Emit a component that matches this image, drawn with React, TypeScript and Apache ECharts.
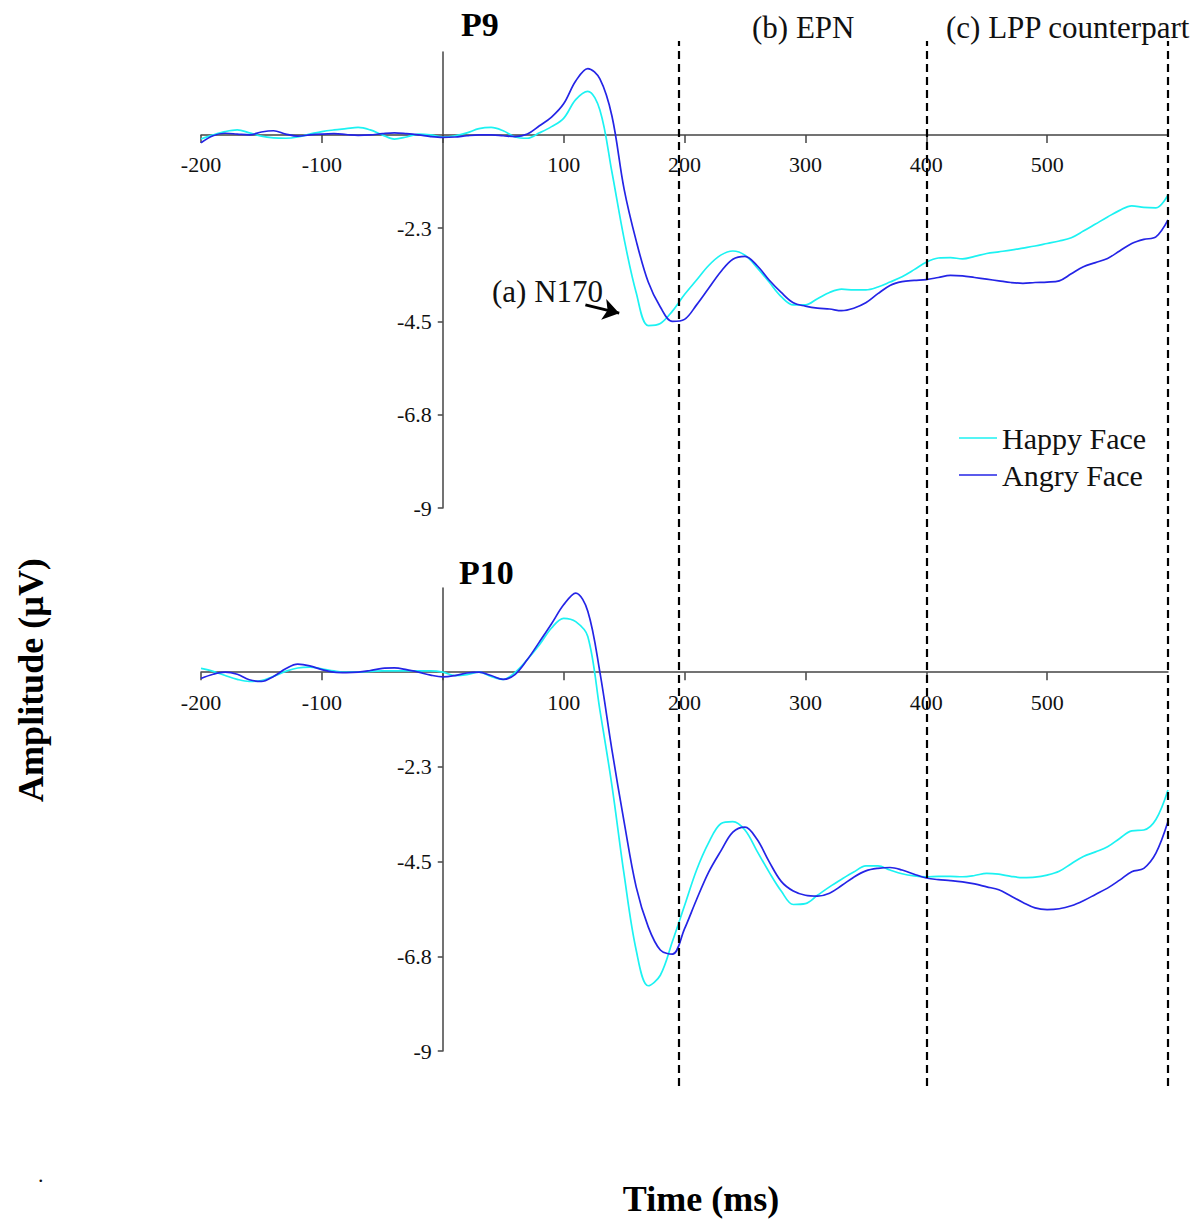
import React, { useEffect, useRef } from "react";
import * as echarts from "echarts";

const timeMs = [
  -200, -190, -180, -170, -160, -150, -140, -130, -120, -110,
  -100, -90, -80, -70, -60, -50, -40, -30, -20, -10,
  0, 10, 20, 30, 40, 50, 60, 70, 80, 90,
  100, 110, 120, 130, 140, 150, 160, 170, 180, 190,
  200, 210, 220, 230, 240, 250, 260, 270, 280, 290,
  300, 310, 320, 330, 340, 350, 360, 370, 380, 390,
  400, 410, 420, 430, 440, 450, 460, 470, 480, 490,
  500, 510, 520, 530, 540, 550, 560, 570, 580, 590, 600,
];

const p9Happy = [
  -0.1, 0.0, 0.08, 0.12, 0.05, -0.03, -0.07, -0.08, -0.05, 0.02,
  0.08, 0.12, 0.15, 0.18, 0.12, 0.0, -0.1, -0.05, 0.02, 0.0,
  -0.05, -0.02, 0.05, 0.15, 0.18, 0.1, -0.05, -0.08, 0.05, 0.2,
  0.4, 0.85, 1.05, 0.6, -0.9, -2.5, -3.8, -4.6, -4.55, -4.25,
  -3.85, -3.5, -3.15, -2.9, -2.8, -2.9, -3.2, -3.55, -3.9, -4.1,
  -4.1, -3.95, -3.8, -3.72, -3.74, -3.74, -3.67, -3.55, -3.42, -3.25,
  -3.07, -2.97, -2.96, -2.99, -2.93, -2.86, -2.82, -2.78, -2.73, -2.68,
  -2.62, -2.56, -2.48, -2.32, -2.15, -1.98, -1.82, -1.71, -1.75, -1.76, -1.45,
];

const p9Angry = [
  -0.19, -0.02, 0.04, 0.02, 0.0, 0.07, 0.1, 0.02, -0.03, 0.0,
  0.02, 0.03, 0.01, -0.01, 0.0, 0.03, 0.05, 0.03, 0.0, -0.04,
  -0.06, -0.05, -0.02, 0.0, 0.0, -0.02, -0.04, 0.02, 0.22, 0.43,
  0.75, 1.3, 1.6, 1.35, 0.45, -1.3, -2.55, -3.55, -4.15, -4.5,
  -4.45, -4.1, -3.7, -3.3, -3.0, -2.93, -3.15, -3.5, -3.8, -4.05,
  -4.13, -4.18, -4.2, -4.24, -4.18, -4.05, -3.83, -3.63, -3.54, -3.51,
  -3.49, -3.44, -3.39, -3.4, -3.44, -3.48, -3.52, -3.56, -3.58, -3.56,
  -3.55, -3.52, -3.35, -3.18, -3.08, -2.98, -2.8, -2.62, -2.52, -2.46, -2.05,
];

const p10Happy = [
  0.09, 0.02, -0.08, -0.17, -0.22, -0.2, -0.1, 0.02, 0.1, 0.12,
  0.08, 0.03, 0.0, 0.0, 0.02, 0.03, 0.03, 0.03, 0.03, 0.03,
  0.0, -0.08, -0.06, 0.0, -0.1, -0.17, 0.0, 0.3, 0.65, 1.05,
  1.28, 1.2, 0.85, -0.9, -2.7, -4.8, -6.6, -7.45, -7.2, -6.4,
  -5.55, -4.7, -4.05, -3.6, -3.55, -3.75, -4.25, -4.75, -5.2, -5.52,
  -5.5, -5.3, -5.1, -4.92, -4.75, -4.6, -4.6, -4.7, -4.79, -4.84,
  -4.86, -4.85, -4.85, -4.86, -4.83, -4.78, -4.8, -4.85, -4.88, -4.87,
  -4.82, -4.73, -4.55, -4.38, -4.27, -4.15, -3.95, -3.77, -3.75, -3.5, -2.8,
];

const p10Angry = [
  -0.15, -0.05, 0.0, -0.05, -0.18, -0.22, -0.1, 0.08, 0.19, 0.15,
  0.06, 0.0, -0.01, 0.0, 0.04, 0.09, 0.1, 0.06, 0.0, -0.07,
  -0.11, -0.08, -0.02, 0.0, -0.08, -0.17, -0.05, 0.3, 0.72, 1.15,
  1.6, 1.88, 1.45, 0.0, -1.85, -3.55, -5.1, -6.05, -6.6, -6.7,
  -6.1, -5.4, -4.75, -4.25, -3.8, -3.68, -3.97, -4.5, -4.97, -5.2,
  -5.3, -5.32, -5.25, -5.07, -4.87, -4.72, -4.66, -4.64, -4.7, -4.8,
  -4.89, -4.93, -4.95, -4.98, -5.03, -5.1, -5.17, -5.32, -5.47, -5.6,
  -5.64, -5.62, -5.55, -5.43, -5.28, -5.13, -4.94, -4.74, -4.66, -4.3, -3.55,
];

const yTickValues = [-9, -6.75, -4.5, -2.25];
const yTickText: Record<string, string> = {
  "-9": "-9",
  "-6.75": "-6.8",
  "-4.5": "-4.5",
  "-2.25": "-2.3",
};
const xTickValues = [-200, -100, 0, 100, 200, 300, 400, 500];
const hiddenXLabels = [0, 600];
const boundaries = [195, 400, 600];
const arrowFrom = [118, -4.1];
const arrowTo = [146, -4.3];

const seriesNames = ["Happy Face", "Angry Face"];
const colors = ["#1cf2f2", "#2424e6"];

const X_MIN = -200;
const X_MAX = 600;
const Y_MIN = -9;
const Y_MAX = 2;

const SERIF = '"Liberation Serif", "Times New Roman", serif';

const GRIDS = [
  { left: 201, top: 52, width: 967, height: 456 },
  { left: 201, top: 588, width: 967, height: 463 },
];

function pairs(vals: number[]) {
  return timeMs.map((t, i) => [t, vals[i]]);
}

function makeX(gridIndex: number) {
  const g = GRIDS[gridIndex];
  // place the axis on the y = 0 line of its grid
  const off = -(g.height * (0 - Y_MIN)) / (Y_MAX - Y_MIN);
  return {
    type: "value",
    gridIndex,
    position: "bottom",
    offset: off,
    min: X_MIN,
    max: X_MAX,
    interval: 100,
    axisLine: { show: true, onZero: false, lineStyle: { color: "#444", width: 1.5 } },
    axisTick: {
      show: true,
      length: 8,
      customValues: xTickValues,
      lineStyle: { color: "#444", width: 1.5 },
    },
    axisLabel: {
      fontFamily: SERIF,
      fontSize: 22,
      color: "#111",
      margin: 19,
      formatter: (v: number) => (hiddenXLabels.includes(v) ? "" : String(v)),
    },
    splitLine: { show: false },
  };
}

function makeY(gridIndex: number) {
  const g = GRIDS[gridIndex];
  // place the axis on the x = 0 line of its grid
  const off = -(g.width * (0 - X_MIN)) / (X_MAX - X_MIN);
  return {
    type: "value",
    gridIndex,
    position: "left",
    offset: off,
    min: Y_MIN,
    max: Y_MAX,
    interval: 2.25,
    axisLine: { show: true, onZero: false, lineStyle: { color: "#444", width: 1.5 } },
    axisTick: {
      show: true,
      length: 5,
      customValues: yTickValues,
      lineStyle: { color: "#444", width: 1.5 },
    },
    axisLabel: {
      fontFamily: SERIF,
      fontSize: 22,
      color: "#111",
      margin: 11,
      customValues: yTickValues,
      formatter: (v: number) => yTickText[String(v)] ?? "",
    },
    splitLine: { show: false },
  };
}

function lineSeries(name: string, color: string, vals: number[], idx: number, extra: any = {}) {
  return {
    name,
    type: "line",
    xAxisIndex: idx,
    yAxisIndex: idx,
    data: pairs(vals),
    symbol: "none",
    showSymbol: false,
    smooth: 0.35,
    color,
    lineStyle: { color, width: 1.7 },
    emphasis: { disabled: true },
    ...extra,
  };
}

export default function App() {
  const ref = useRef<HTMLDivElement>(null);

  useEffect(() => {
    document.body.style.margin = "0";
    const chart = echarts.init(ref.current!, null, { renderer: "svg" });
    const option: any = {
      animation: false,
      backgroundColor: "#ffffff",
      grid: [GRIDS[0], GRIDS[1], { left: 201, top: 41, width: 967, height: 1045 }],
      xAxis: [
        makeX(0),
        makeX(1),
        { type: "value", gridIndex: 2, min: X_MIN, max: X_MAX, show: false },
      ],
      yAxis: [
        makeY(0),
        makeY(1),
        { type: "value", gridIndex: 2, min: 0, max: 1, show: false },
      ],
      legend: {
        data: seriesNames.map((n) => ({ name: n, icon: "rect" })),
        orient: "vertical",
        left: 959,
        top: 421,
        padding: 0,
        itemWidth: 38,
        itemHeight: 1.6,
        itemGap: 3,
        textStyle: { fontFamily: SERIF, fontSize: 30, color: "#111", lineHeight: 34 },
        selectedMode: false,
      },
      series: [
        lineSeries(seriesNames[0], colors[0], p9Happy, 0, {
          markLine: {
            silent: true,
            symbol: ["none", "arrow"],
            symbolSize: 16,
            label: { show: false },
            lineStyle: { color: "#000", width: 3, type: "solid" },
            emphasis: { disabled: true },
            data: [[{ coord: arrowFrom }, { coord: arrowTo }]],
          },
        }),
        lineSeries(seriesNames[1], colors[1], p9Angry, 0),
        lineSeries(seriesNames[0], colors[0], p10Happy, 1),
        lineSeries(seriesNames[1], colors[1], p10Angry, 1),
        {
          type: "line",
          xAxisIndex: 2,
          yAxisIndex: 2,
          data: [[X_MIN, 0]],
          symbol: "none",
          lineStyle: { opacity: 0 },
          markLine: {
            silent: true,
            symbol: ["none", "none"],
            label: { show: false },
            lineStyle: { color: "#000", width: 2.2, type: [8, 5] },
            emphasis: { disabled: true },
            data: boundaries.map((v) => ({ xAxis: v })),
          },
        },
      ],
      graphic: [
        { type: "text", x: 461, y: 24, style: { text: "P9", font: `bold 34px ${SERIF}`, fill: "#000", textVerticalAlign: "middle" } },
        { type: "text", x: 459, y: 572, style: { text: "P10", font: `bold 34px ${SERIF}`, fill: "#000", textVerticalAlign: "middle" } },
        { type: "text", x: 752, y: 27, style: { text: "(b) EPN", font: `31px ${SERIF}`, fill: "#111", textVerticalAlign: "middle" } },
        { type: "text", x: 946, y: 27, style: { text: "(c) LPP counterpart", font: `31px ${SERIF}`, fill: "#111", textVerticalAlign: "middle" } },
        { type: "text", x: 492, y: 291, style: { text: "(a) N170", font: `31px ${SERIF}`, fill: "#111", textVerticalAlign: "middle" } },
        {
          type: "text",
          x: 31,
          y: 680,
          rotation: Math.PI / 2,
          style: { text: "Amplitude (µV)", font: `bold 36px ${SERIF}`, fill: "#000", textAlign: "center", textVerticalAlign: "middle" },
        },
        { type: "text", x: 701, y: 1199, style: { text: "Time (ms)", font: `bold 36px ${SERIF}`, fill: "#000", textAlign: "center", textVerticalAlign: "middle" } },
        { type: "text", x: 38, y: 1174, style: { text: ".", font: `22px ${SERIF}`, fill: "#111", textVerticalAlign: "middle" } },
      ],
    };
    chart.setOption(option);
    return () => chart.dispose();
  }, []);

  return (
    <div
      ref={ref}
      style={{ position: "absolute", left: 0, top: 0, width: 1203, height: 1222 }}
    />
  );
}
